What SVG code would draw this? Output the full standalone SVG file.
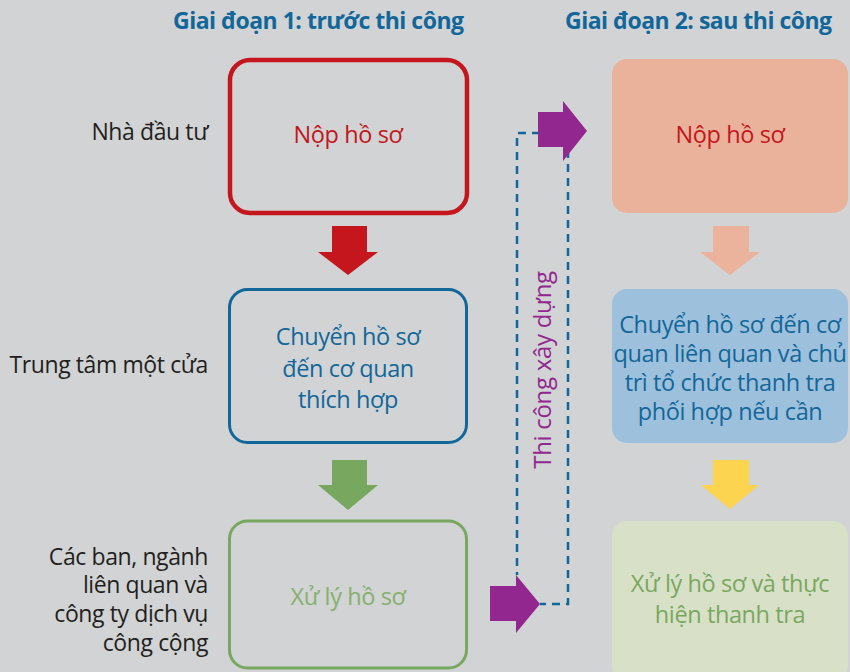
<svg xmlns="http://www.w3.org/2000/svg" width="850" height="672" viewBox="0 0 850 672">
  <style>
    text { font-family: "Open Sans", "Noto Sans", "DejaVu Sans", sans-serif; }
    .hdr { font-size: 23px; font-weight: 700; fill: #12679a; letter-spacing: -0.5px; }
    .lbl { font-size: 23px; fill: #231f20; text-anchor: end; letter-spacing: -0.4px; }
    .t { font-size: 23.5px; text-anchor: middle; letter-spacing: -0.4px; }
    .red { fill: #c4161c; }
    .blue { fill: #12679a; }
    .green { fill: #78a85f; }
    .purple { fill: #92278f; }
    .dash { fill: none; stroke: #12679a; stroke-width: 2.5; stroke-dasharray: 8 6; }
  </style>

  <rect width="850" height="672" fill="#d1d3d4"/>

  <!-- column headings -->
  <text class="hdr" x="173" y="29">Giai đoạn 1: trước thi công</text>
  <text class="hdr" x="565" y="29">Giai đoạn 2: sau thi công</text>

  <!-- row labels -->
  <text class="lbl" x="208" y="140">Nhà đầu tư</text>
  <text class="lbl" x="208" y="373">Trung tâm một cửa</text>
  <text class="lbl" x="208" y="565">Các ban, ngành</text>
  <text class="lbl" x="208" y="593">liên quan và</text>
  <text class="lbl" x="208" y="622">công ty dịch vụ</text>
  <text class="lbl" x="208" y="651">công cộng</text>

  <!-- phase 1 -->
  <g id="p1-submit">
    <rect x="230" y="60" width="237" height="153" rx="20" fill="none" stroke="#c4161c" stroke-width="4.5"/>
    <text class="t red" x="348" y="143">Nộp hồ sơ</text>
  </g>
  <g id="p1-forward">
    <rect x="229.5" y="289.5" width="237" height="153" rx="18" fill="none" stroke="#12679a" stroke-width="3"/>
    <text class="t blue" x="348" y="345">Chuyển hồ sơ</text>
    <text class="t blue" x="348" y="377">đến cơ quan</text>
    <text class="t blue" x="348" y="408">thích hợp</text>
  </g>
  <g id="p1-process">
    <rect x="229.5" y="521" width="237" height="147" rx="18" fill="none" stroke="#78a85f" stroke-width="3"/>
    <text class="t" x="348" y="605" fill="#86b06e">Xử lý hồ sơ</text>
  </g>

  <!-- phase 2 -->
  <g id="p2-submit">
    <rect x="612" y="59" width="236" height="154" rx="15" fill="#eab29b"/>
    <text class="t red" x="730" y="143">Nộp hồ sơ</text>
  </g>
  <g id="p2-forward">
    <rect x="612" y="289" width="236" height="154" rx="15" fill="#9dc0dc"/>
    <text class="t blue" x="730" y="333">Chuyển hồ sơ đến cơ</text>
    <text class="t blue" x="730" y="362">quan liên quan và chủ</text>
    <text class="t blue" x="730" y="391">trì tổ chức thanh tra</text>
    <text class="t blue" x="730" y="420">phối hợp nếu cần</text>
  </g>
  <g id="p2-process">
    <rect x="612" y="521" width="236" height="160" rx="15" fill="#d8e0c7"/>
    <text class="t" x="730" y="592" fill="#78a85f">Xử lý hồ sơ và thực</text>
    <text class="t" x="730" y="623" fill="#78a85f">hiện thanh tra</text>
  </g>

  <!-- connectors -->
  <g id="connectors">
    <polygon points="332,226 367,226 367,252 378,252 348,275 318,252 332,252" fill="#c4161c"/>
    <polygon points="332,460 367,460 367,485 378,485 348,510 318,485 332,485" fill="#78a85f"/>
    <polygon points="713,226 749,226 749,252 760,252 730,275 700,252 713,252" fill="#ebb39c"/>
    <polygon points="713,460 749,460 749,485 759,485 730,509 701,485 713,485" fill="#fdd44f"/>

    <path class="dash" d="M540,133 H517 V575"/>
    <path class="dash" d="M568,150 V604 H540"/>

    <polygon points="538,112 563,112 563,101 587,131 563,161 563,147 538,147" fill="#92278f"/>
    <polygon points="490,586 516,586 516,575 540,604 516,633 516,621 490,621" fill="#92278f"/>

    <text class="purple" font-size="24" text-anchor="middle" letter-spacing="-0.3" transform="translate(551,370) rotate(-90)">Thi công xây dựng</text>
  </g>
</svg>
